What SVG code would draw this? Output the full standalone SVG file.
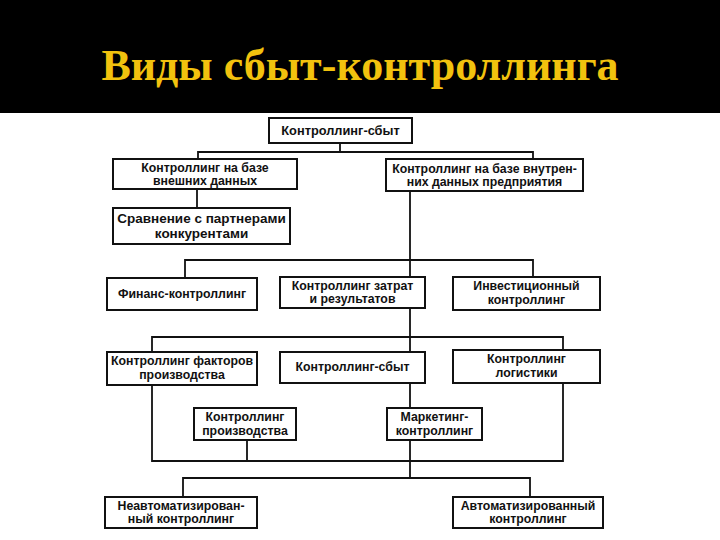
<svg xmlns="http://www.w3.org/2000/svg" width="720" height="540" viewBox="0 0 720 540">
<style>
.bx{fill:#fff;stroke:#111;stroke-width:2}
.t{font-family:"Liberation Sans",Arial,sans-serif;font-size:12.3px;font-weight:bold;text-anchor:middle;fill:#111}
.c{stroke:#111;stroke-width:1.8;fill:none}
</style>
<rect x="0" y="0" width="720" height="540" fill="#fff"/>
<rect x="0" y="0" width="720" height="113" fill="#000"/>
<text x="360" y="80" font-family="'Liberation Serif','Times New Roman',serif" font-size="44" font-weight="bold" fill="#F2C20E" text-anchor="middle">Виды сбыт-контроллинга</text>
<g id="connectors">
<path class="c" d="M340,143V152M198,159V152H533V159"/>
<path class="c" d="M197,189V208"/>
<path class="c" d="M410,191V277M185,278V260H533V277"/>
<path class="c" d="M410,308V352M152,352V337H563V350"/>
<path class="c" d="M152,385V461H563V383M247,440V461M410,383V408"/>
<path class="c" d="M410,440V478M183,497V478H530V497"/>
</g>
<g id="n1"><rect class="bx" x="269" y="118" width="143" height="25"/><text class="t" x="340.5" y="135" style="font-size:12.8px">Контроллинг-сбыт</text></g>
<g id="n2"><rect class="bx" x="113" y="159" width="184" height="30"/><text class="t" x="205" y="172">Контроллинг на базе</text><text class="t" x="205" y="185">внешних данных</text></g>
<g id="n3"><rect class="bx" x="386" y="159" width="197" height="32"/><text class="t" x="484.5" y="173">Контроллинг на базе внутрен-</text><text class="t" x="484.5" y="186">них данных предприятия</text></g>
<g id="n4"><rect class="bx" x="113" y="208" width="177" height="36"/><text class="t" x="201.5" y="223" style="font-size:13.5px">Сравнение с партнерами</text><text class="t" x="201.5" y="238" style="font-size:13.5px">конкурентами</text></g>
<g id="n5"><rect class="bx" x="107" y="278" width="150" height="32"/><text class="t" x="182" y="298">Финанс-контроллинг</text></g>
<g id="n6"><rect class="bx" x="280" y="277" width="145" height="31"/><text class="t" x="352.5" y="290">Контроллинг затрат</text><text class="t" x="352.5" y="303">и результатов</text></g>
<g id="n7"><rect class="bx" x="453" y="277" width="147" height="33"/><text class="t" x="526.5" y="290">Инвестиционный</text><text class="t" x="526.5" y="304">контроллинг</text></g>
<g id="n8"><rect class="bx" x="107" y="352" width="150" height="33"/><text class="t" x="182" y="365">Контроллинг факторов</text><text class="t" x="182" y="379">производства</text></g>
<g id="n9"><rect class="bx" x="280" y="352" width="145" height="31"/><text class="t" x="352.5" y="371">Контроллинг-сбыт</text></g>
<g id="n10"><rect class="bx" x="453" y="350" width="147" height="33"/><text class="t" x="526.5" y="363">Контроллинг</text><text class="t" x="526.5" y="377">логистики</text></g>
<g id="n11"><rect class="bx" x="194" y="408" width="102" height="32"/><text class="t" x="245" y="421">Контроллинг</text><text class="t" x="245" y="435">производства</text></g>
<g id="n12"><rect class="bx" x="387" y="408" width="95" height="32"/><text class="t" x="434.5" y="421">Маркетинг-</text><text class="t" x="434.5" y="435">контроллинг</text></g>
<g id="n13"><rect class="bx" x="105" y="497" width="152" height="31"/><text class="t" x="181" y="510">Неавтоматизирован-</text><text class="t" x="181" y="523">ный контроллинг</text></g>
<g id="n14"><rect class="bx" x="453" y="497" width="150" height="31"/><text class="t" x="528" y="510">Автоматизированный</text><text class="t" x="528" y="523">контроллинг</text></g>
</svg>
